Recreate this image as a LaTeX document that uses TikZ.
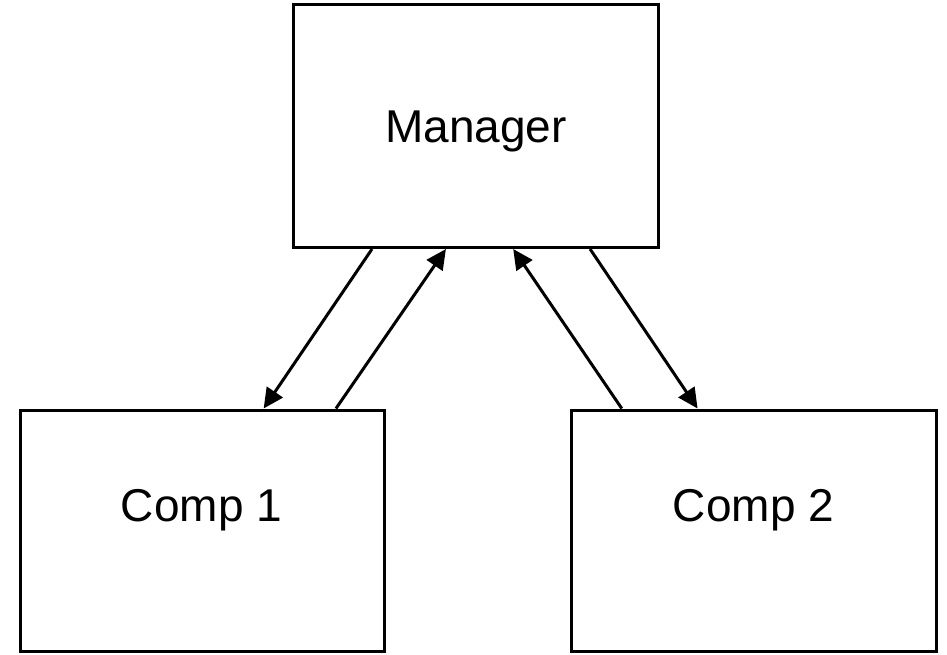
\documentclass[tikz,border=0pt]{standalone}
\usepackage{fontspec}
\setmainfont{Liberation Sans}
\usetikzlibrary{calc,arrows.meta}
\begin{document}
\begin{tikzpicture}[x=1pt,y=-1pt,
  box/.style={draw=black, line width=3pt, fill=white, rectangle, inner sep=0pt},
  lbl/.style={font=\fontsize{46}{55}\selectfont, anchor=base, inner sep=0pt},
  conn/.style={line width=3pt, -{Triangle[length=20pt,width=19pt]}}]
\useasboundingbox (0,0) rectangle (947,654);
\node[box, minimum width=364.7pt, minimum height=243pt] (mgr) at (475.7,126) {};
\node[box, minimum width=364pt, minimum height=241pt] (c1) at (202,530.5) {};
\node[box, minimum width=365pt, minimum height=241pt] (c2) at (753.5,530.5) {};
\node[lbl] (tmgr) at (476,142.7) {Manager};
\node[lbl] (tc1) at (201.5,521.7) {Comp 1};
\node[lbl] (tc2) at (753.5,521.7) {Comp 2};
\draw[conn] ($(mgr.south west)!0.218!(mgr.south east)$) -- ($(c1.north west)!0.668!(c1.north east)$);
\draw[conn] ($(c1.north west)!0.865!(c1.north east)$) -- ($(mgr.south west)!0.419!(mgr.south east)$);
\draw[conn] ($(c2.north west)!0.142!(c2.north east)$) -- ($(mgr.south west)!0.602!(mgr.south east)$);
\draw[conn] ($(mgr.south west)!0.811!(mgr.south east)$) -- ($(c2.north west)!0.348!(c2.north east)$);
\end{tikzpicture}
\end{document}
